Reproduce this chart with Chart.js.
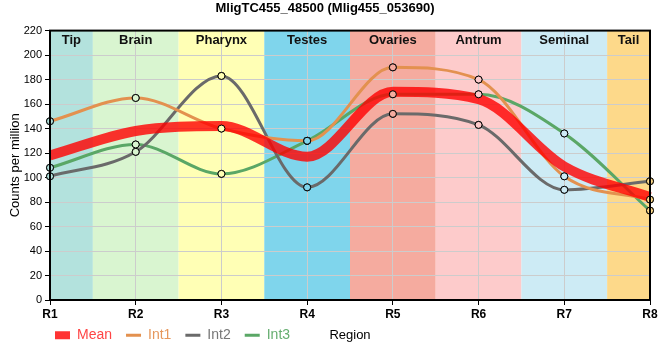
<!DOCTYPE html>
<html><head><meta charset="utf-8">
<script src="https://cdn.jsdelivr.net/npm/chart.js@4/dist/chart.umd.min.js"></script>
<style>html,body{margin:0;padding:0;background:#fff}#wrap{width:660px;height:360px}</style>
</head><body><div id="wrap"><canvas id="c" width="660" height="360"></canvas></div>
<script>
const FONT = '"Liberation Sans", Arial, sans-serif';
const regions = ['R1', 'R2', 'R3', 'R4', 'R5', 'R6', 'R7', 'R8'];
const tissues = ['Tip', 'Brain', 'Pharynx', 'Testes', 'Ovaries', 'Antrum', 'Seminal', 'Tail'];
const tissueColors = ['#b3e2dd', '#d9f5d0', '#ffffb5', '#7fd5ec', '#f5ab9f', '#fdcbcb', '#cdebf5', '#fdd98a'];
const meanValues = [118, 138, 142, 117, 170, 164, 109, 84];
const int1Values = [146, 165, 140, 130, 190, 180, 101, 82];
const int2Values = [101, 121, 183, 92, 152, 143, 90, 97];
const int3Values = [108, 127, 103, 130, 168, 168, 136, 73];
const seriesNames = ['Mean', 'Int1', 'Int2', 'Int3'];
const seriesColors = ['rgba(255,0,0,0.8)', '#e3914f', '#6a6a6a', '#5aa766'];
const legendTextColors = ['#ff4545', '#e6975c', '#777777', '#66ae70'];
const legendLineWidths = [8, 3, 3, 3];

const bandsPlugin = {
  id: 'bands',
  beforeDraw(chart) {
    const {ctx, chartArea: a, scales: {x}} = chart;
    ctx.save();
    tissues.forEach((name, i) => {
      const l = Math.max(a.left, x.getPixelForValue(i - 0.5));
      const r = Math.min(a.right, x.getPixelForValue(i + 0.5));
      ctx.fillStyle = tissueColors[i];
      ctx.fillRect(l, a.top, r - l, a.bottom - a.top);
    });
    ctx.restore();
  },
  afterDatasetsDraw(chart) {
    const {ctx, chartArea: a, scales: {x}} = chart;
    ctx.save();
    chart.data.datasets.forEach((ds, i) => {
      if (i === 0) return;
      chart.getDatasetMeta(i).data.forEach(pt => pt.draw(ctx, {left: 0, top: 0, right: chart.width, bottom: chart.height}));
    });
    ctx.font = 'bold 13px ' + FONT;
    ctx.textAlign = 'center';
    ctx.textBaseline = 'middle';
    ctx.fillStyle = '#111';
    tissues.forEach((name, i) => {
      const l = Math.max(a.left, x.getPixelForValue(i - 0.5));
      const r = Math.min(a.right, x.getPixelForValue(i + 0.5));
      ctx.fillText(name, (l + r) / 2, a.top + 10);
    });
    ctx.strokeStyle = '#000';
    ctx.lineWidth = 2;
    ctx.strokeRect(a.left, a.top, a.right - a.left, a.bottom - a.top);
    ctx.restore();
  }
};

const legendMover = {
  id: 'legendMover',
  beforeLayout(chart) {
    const lg = chart.legend;
    if (lg && !lg._wrapped) {
      const fit = lg.fit;
      lg.fit = function () { fit.call(this); this._realH = this.height; this.height = 0; };
      lg._wrapped = true;
    }
  },
  afterLayout(chart) {
    const lg = chart.legend;
    if (!lg) return;
    const pad = lg.options.labels.padding;
    const fs = lg.options.labels.font.size;
    const xs = chart.scales.x;
    const targetY = xs.bottom - 4 - 13 * 1.2 / 2;
    lg.height = lg._realH;
    lg.top = targetY - pad - fs / 2;
    lg.bottom = lg.top + lg.height;
    lg.left = chart.chartArea.left + 5 - pad;
    lg.right = lg.left + lg.width;
  }
};

const datasets = [meanValues, int1Values, int2Values, int3Values].map((vals, i) => ({
  label: seriesNames[i],
  data: vals,
  borderColor: seriesColors[i],
  backgroundColor: seriesColors[i],
  borderWidth: i === 0 ? 10 : 3,
  pointRadius: i === 0 ? 0 : 3.5,
  pointHoverRadius: i === 0 ? 0 : 3.5,
  pointBorderColor: '#000',
  pointBorderWidth: 1,
  pointBackgroundColor: (c) => tissueColors[c.dataIndex],
  cubicInterpolationMode: 'monotone',
  fill: false,
  clip: false
}));

new Chart(document.getElementById('c'), {
  type: 'line',
  data: {labels: regions, datasets},
  plugins: [bandsPlugin, legendMover],
  options: {
    responsive: false,
    animation: false,
    devicePixelRatio: 1,
    layout: {padding: {left: 0, right: 10, top: 0, bottom: 13}},
    plugins: {
      tooltip: {enabled: false},
      title: {
        display: true,
        text: 'MligTC455_48500 (Mlig455_053690)',
        color: '#000',
        font: {family: FONT, size: 13, weight: 'bold'},
        padding: {top: 1, bottom: 14}
      },
      legend: {
        position: 'bottom',
        align: 'start',
        labels: {
          usePointStyle: true,
          pointStyleWidth: 15,
          boxHeight: 8,
          padding: 14,
          font: {family: FONT, size: 14},
          generateLabels(chart) {
            return chart.data.datasets.map((ds, i) => ({
              text: ds.label,
              fillStyle: seriesColors[i],
              strokeStyle: seriesColors[i],
              fontColor: legendTextColors[i],
              lineWidth: legendLineWidths[i],
              lineCap: 'butt',
              pointStyle: 'line',
              hidden: false,
              datasetIndex: i
            }));
          }
        }
      }
    },
    scales: {
      x: {
        type: 'category',
        offset: false,
        grid: {color: '#cccccc', tickColor: '#000', tickLength: 5, lineWidth: 1},
        border: {color: '#000', width: 2},
        ticks: {color: '#000', font: {family: FONT, size: 12, weight: 'bold'}, padding: 2, maxRotation: 0},
        title: {display: true, text: 'Region', color: '#000', font: {family: FONT, size: 13}, padding: {top: 4, bottom: 4}}
      },
      y: {
        min: 0, max: 220,
        ticks: {stepSize: 20, color: '#000', font: {family: FONT, size: 11}, padding: 3},
        grid: {color: '#cccccc', tickColor: '#000', tickLength: 5, lineWidth: 1},
        border: {color: '#000', width: 2},
        title: {display: true, text: 'Counts per million', color: '#000', font: {family: FONT, size: 13}, padding: {top: 8, bottom: 0}},
        afterFit(scale) { scale.width = 50; }
      }
    }
  }
});
</script>
</body></html>
